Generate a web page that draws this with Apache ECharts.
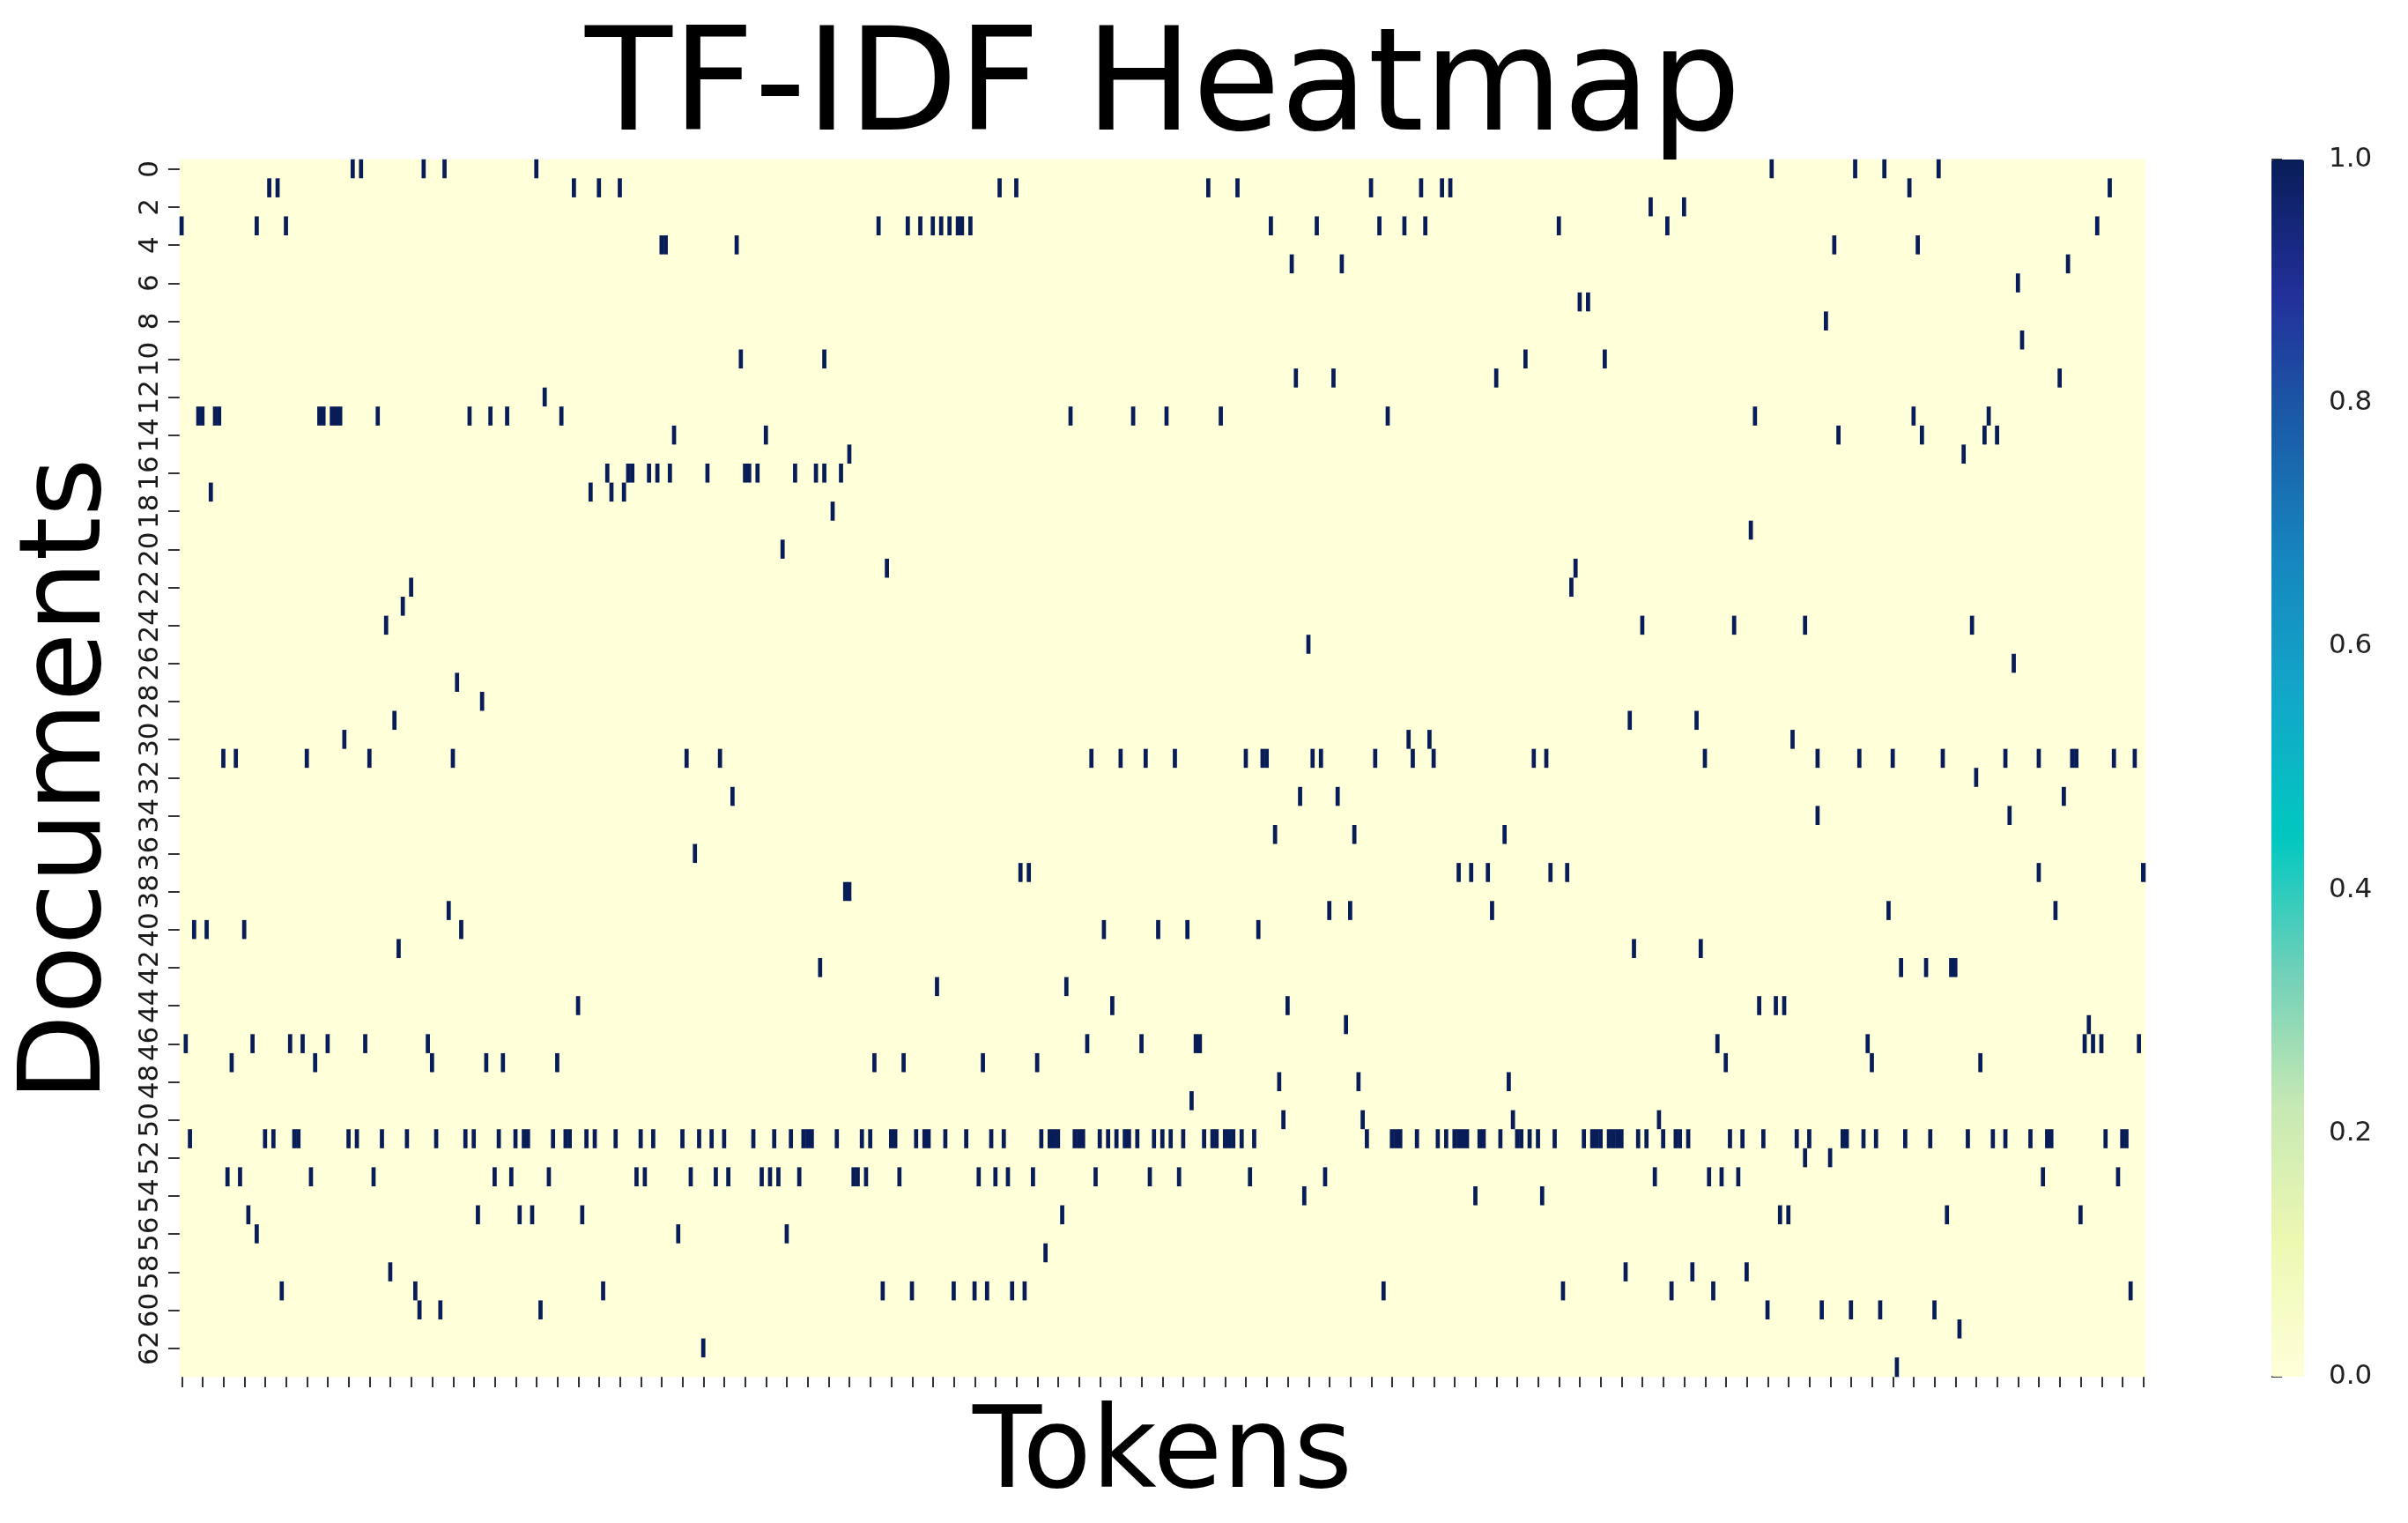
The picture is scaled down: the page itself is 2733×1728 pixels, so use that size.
<!DOCTYPE html>
<html>
<head>
<meta charset="utf-8">
<script src="https://cdn.jsdelivr.net/npm/echarts@6/dist/echarts.min.js"></script>
<style>
html,body{margin:0;padding:0;background:#ffffff;}
#chart{width:2733px;height:1728px;}
</style>
</head>
<body>
<div id="chart"></div>
<script>
// ---- data: column (token) indices with a non-zero TF-IDF value, one array per document ----
const N_TOKENS = 471;
const CELL_VALUE = 1.0;
const d0 = [41, 43, 58, 63, 85, 381, 401, 408, 421];
const d1 = [21, 23, 94, 100, 105, 196, 200, 246, 253, 285, 297, 302, 304, 414, 462];
const d2 = [352, 360];
const d3 = [0, 18, 25, 167, 174, 177, 180, 182, 184, 186, 187, 189, 261, 272, 287, 293, 298, 330, 356, 459];
const d4 = [115, 116, 133, 396, 416];
const d5 = [266, 278, 452];
const d6 = [440];
const d7 = [335, 337];
const d8 = [394];
const d9 = [441];
const d10 = [134, 154, 322, 341];
const d11 = [267, 276, 315, 450];
const d12 = [87];
const d13 = [4, 5, 8, 9, 33, 34, 36, 37, 38, 47, 69, 74, 78, 91, 213, 228, 236, 249, 289, 377, 415, 433];
const d14 = [118, 140, 397, 417, 432, 435];
const d15 = [160, 427];
const d16 = [102, 107, 108, 112, 114, 117, 126, 135, 136, 138, 147, 152, 154, 158];
const d17 = [7, 98, 103, 106];
const d18 = [156];
const d19 = [376];
const d20 = [144];
const d21 = [169, 334];
const d22 = [55, 333];
const d23 = [53];
const d24 = [49, 350, 372, 389, 429];
const d25 = [270];
const d26 = [439];
const d27 = [66];
const d28 = [72];
const d29 = [51, 347, 363];
const d30 = [39, 294, 299, 386];
const d31 = [10, 13, 30, 45, 65, 121, 129, 218, 225, 231, 238, 255, 259, 260, 271, 273, 286, 295, 300, 324, 327, 365, 392, 402, 410, 422, 437, 445, 453, 454, 463, 468];
const d32 = [430];
const d33 = [132, 268, 277, 451];
const d34 = [392, 438];
const d35 = [262, 281, 317];
const d36 = [123];
const d37 = [201, 203, 306, 309, 313, 328, 332, 445, 470];
const d38 = [159, 160];
const d39 = [64, 275, 280, 314, 409, 449];
const d40 = [3, 6, 15, 67, 221, 234, 241, 258];
const d41 = [52, 348, 364];
const d42 = [153, 412, 418, 424, 425];
const d43 = [181, 212];
const d44 = [95, 223, 265, 378, 382, 384];
const d45 = [279, 457];
const d46 = [1, 17, 26, 29, 35, 44, 59, 217, 230, 243, 244, 368, 404, 456, 458, 460, 469];
const d47 = [12, 32, 60, 73, 77, 90, 166, 173, 192, 205, 370, 405, 431];
const d48 = [263, 282, 318];
const d49 = [242];
const d50 = [264, 283, 319, 354];
const d51 = [2, 20, 22, 27, 28, 40, 42, 48, 54, 61, 68, 70, 76, 80, 82, 83, 89, 92, 93, 97, 99, 104, 110, 113, 120, 124, 127, 130, 137, 142, 146, 149, 150, 151, 157, 163, 165, 170, 171, 176, 178, 179, 183, 188, 194, 197, 206, 208, 209, 210, 214, 215, 216, 220, 222, 224, 226, 227, 229, 233,
             235, 237, 240, 245, 247, 248, 250, 251, 252, 254, 257, 284, 290, 291, 292, 296, 301, 303, 305, 306, 307, 308, 311, 312, 316, 320, 321, 323, 325, 329, 336, 338, 339, 340, 342, 343, 344, 345, 349, 351, 355, 358, 359, 361, 371, 374, 379, 387, 390, 398, 399, 403, 406, 413, 419, 428, 434, 437, 443, 447, 448, 461, 465, 466];
const d52 = [389, 395];
const d53 = [11, 14, 31, 46, 75, 79, 88, 109, 111, 122, 128, 131, 139, 141, 143, 148, 161, 162, 164, 172, 191, 195, 198, 204, 219, 232, 239, 256, 274, 353, 366, 369, 373, 446, 464];
const d54 = [269, 310, 326];
const d55 = [16, 71, 81, 84, 96, 211, 383, 385, 423, 455];
const d56 = [18, 119, 145];
const d57 = [207];
const d58 = [50, 346, 362, 375];
const d59 = [24, 56, 101, 168, 175, 185, 190, 193, 199, 202, 288, 331, 357, 367, 467];
const d60 = [57, 62, 86, 380, 393, 400, 407, 420];
const d61 = [426];
const d62 = [125];
const d63 = [411];

const docTokens = [d0,d1,d2,d3,d4,d5,d6,d7,d8,d9,d10,d11,d12,d13,d14,d15,d16,d17,d18,d19,
  d20,d21,d22,d23,d24,d25,d26,d27,d28,d29,d30,d31,d32,d33,d34,d35,d36,d37,d38,d39,
  d40,d41,d42,d43,d44,d45,d46,d47,d48,d49,d50,d51,d52,d53,d54,d55,d56,d57,d58,d59,
  d60,d61,d62,d63];

// tick labels / categories
const docLabels = docTokens.map((_, i) => String(i));
const tokenLabels = Array.from({length: N_TOKENS}, (_, i) => String(i));

// full matrix (zeros elsewhere)
const heatData = [];
docTokens.forEach((cols, r) => {
  const s = new Set(cols);
  for (let c = 0; c < N_TOKENS; c++) heatData.push([c, r, s.has(c) ? CELL_VALUE : 0]);
});

const FONT = 'DejaVu Sans';
const chart = echarts.init(document.getElementById('chart'), null, {renderer: 'canvas'});
chart.setOption({
  animation: false,
  backgroundColor: '#ffffff',
  textStyle: {fontFamily: FONT},
  title: {
    text: 'TF-IDF Heatmap',
    left: 1320, top: 24, padding: 0,
    textAlign: 'center', textVerticalAlign: 'top',
    textStyle: {fontFamily: FONT, fontSize: 162, fontWeight: 'normal', color: '#000000'}
  },
  grid: [
    {left: 204, top: 181, width: 2231, height: 1381, show: true, backgroundColor: '#ffffd9', borderWidth: 0, containLabel: false},
    {left: 2578, top: 181, width: 37, height: 1381, show: false, containLabel: false}
  ],
  xAxis: [
    {
      type: 'category', gridIndex: 0, data: tokenLabels, position: 'bottom',
      axisLine: {show: false}, splitLine: {show: false},
      axisTick: {show: true, interval: 4, alignWithLabel: true, length: 12, lineStyle: {color: '#333333', width: 2}},
      axisLabel: {show: false},
      name: 'Tokens', nameLocation: 'middle', nameGap: 28,
      nameTextStyle: {fontFamily: FONT, fontSize: 128, color: '#000000'}
    },
    {type: 'value', gridIndex: 1, show: false, min: 0, max: 1}
  ],
  yAxis: [
    {
      type: 'category', gridIndex: 0, data: docLabels, inverse: true,
      axisLine: {show: false}, splitLine: {show: false},
      axisTick: {show: true, interval: 1, alignWithLabel: true, length: 13, lineStyle: {color: '#333333', width: 2}},
      axisLabel: {interval: 1, rotate: 90, fontSize: 31, margin: 18, color: '#1a1a1a', fontFamily: FONT},
      name: 'Documents', nameLocation: 'middle', nameRotate: 90, nameGap: 60,
      nameTextStyle: {fontFamily: FONT, fontSize: 128, color: '#000000', padding: [0, 26, 0, 0]}
    },
    {
      type: 'value', gridIndex: 1, position: 'right', min: 0, max: 1, interval: 0.2,
      axisLine: {show: false}, splitLine: {show: false},
      axisTick: {show: true, length: 12, lineStyle: {color: '#333333', width: 2}},
      axisLabel: {formatter: v => v.toFixed(1), fontSize: 31, margin: 28, color: '#222222', fontFamily: FONT}
    }
  ],
  visualMap: {
    type: 'continuous', min: 0, max: 1, calculable: false, orient: 'vertical',
    left: 2578, top: 181, itemWidth: 37, itemHeight: 1381, padding: 0,
    seriesIndex: 0, showLabel: false, text: null,
    inRange: {color: ['#ffffd9', '#edf8b1', '#c7e9b4', '#6fd0b8', '#00c8c0', '#12a8c8', '#1688c0', '#1a5ea8', '#22309a', '#081d58']}
  },
  series: [
    {
      type: 'heatmap', xAxisIndex: 0, yAxisIndex: 0, data: heatData,
      progressive: 0, emphasis: {disabled: true}, itemStyle: {borderWidth: 0}
    },
    {type: 'line', xAxisIndex: 1, yAxisIndex: 1, data: [], silent: true}
  ]
});
</script>
</body>
</html>
